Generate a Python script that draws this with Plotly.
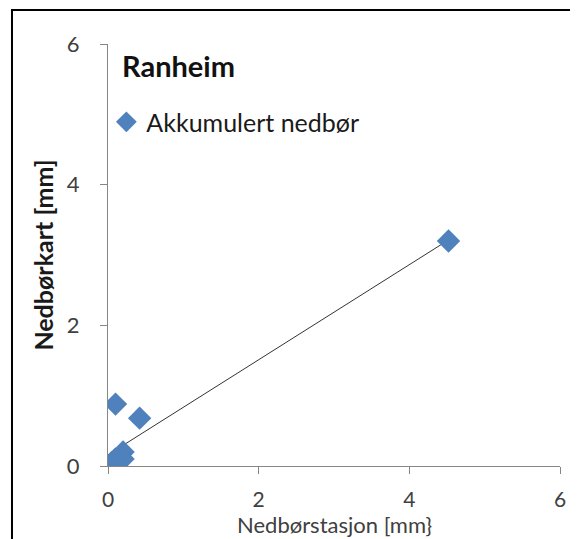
import numpy as np
import plotly.graph_objects as go

# Data
stasjon = [0.0, 0.05, 0.1, 0.15, 0.2, 0.2, 0.1, 0.42, 4.52]   # Nedbørstasjon [mm]
kart    = [0.0, 0.05, 0.1, 0.1, 0.2, 0.1, 0.88, 0.68, 3.2]    # Nedbørkart [mm]
series_name = "Akkumulert nedbør"
chart_title = "Ranheim"
x_title = "Nedbørstasjon [mm}"
y_title = "Nedbørkart [mm]"
x_ticks = [0, 2, 4, 6]
y_ticks = [0, 2, 4, 6]

# Linear trendline (least squares), drawn over the data range
slope, intercept = np.polyfit(stasjon, kart, 1)
trend_x = [min(stasjon), max(stasjon)]
trend_y = [slope * v + intercept for v in trend_x]

FONT = "Lato"
BLUE = "#4F81BD"
AXIS = "#868686"
TXT = "#404040"

fig = go.Figure()
fig.add_trace(go.Scatter(
    x=trend_x, y=trend_y, mode="lines",
    line=dict(color="#333333", width=1), showlegend=False, hoverinfo="skip"))
fig.add_trace(go.Scatter(
    x=stasjon, y=kart, mode="markers", name=series_name,
    marker=dict(symbol="diamond", size=18, color=BLUE)))

fig.update_layout(
    width=570, height=531,
    margin=dict(l=100, r=18, t=36, b=73),
    paper_bgcolor="white", plot_bgcolor="white",
    font=dict(family=FONT, color=TXT),
    showlegend=True,
    legend=dict(x=-0.0036, y=0.815, xanchor="left", yanchor="middle",
                font=dict(family=FONT, size=25, color="#1a1a1a"),
                bgcolor="rgba(0,0,0,0)"),
    xaxis=dict(range=[0, 6], tickvals=x_ticks, showgrid=False, zeroline=False,
               showline=True, linecolor=AXIS, linewidth=1,
               ticks="outside", ticklen=7, tickcolor=AXIS,
               ticklabelstandoff=8,
               tickfont=dict(family=FONT, size=21, color=TXT)),
    yaxis=dict(range=[0, 6], tickvals=y_ticks, showgrid=False, zeroline=False,
               showline=True, linecolor=AXIS, linewidth=1,
               ticks="outside", ticklen=7, tickcolor=AXIS,
               ticklabelstandoff=16,
               tickfont=dict(family=FONT, size=22, color=TXT),
               title=dict(text="<b>" + y_title + "</b>", standoff=6,
                          font=dict(family=FONT, size=25, color="#1a1a1a"))),
)

# x-axis title (placed as annotation to sit tight under the tick labels)
fig.add_annotation(
    text=x_title, xref="paper", yref="paper", x=0.5, y=-0.1375,
    xanchor="center", yanchor="middle", showarrow=False,
    font=dict(family=FONT, size=22, color=TXT))

fig.add_annotation(
    text="<b>" + chart_title + "</b>", xref="paper", yref="paper",
    x=0.0265, y=0.95, xanchor="left", yanchor="middle", showarrow=False,
    font=dict(family=FONT, size=29, color="#111111"))

# Chart frame (Excel chart area border)
fig.add_shape(type="rect", xref="paper", yref="paper",
              x0=-0.2124, x1=1.2, y0=-0.3, y1=1.0806,
              line=dict(color="black", width=2), layer="below")

fig.write_html("out.html")
